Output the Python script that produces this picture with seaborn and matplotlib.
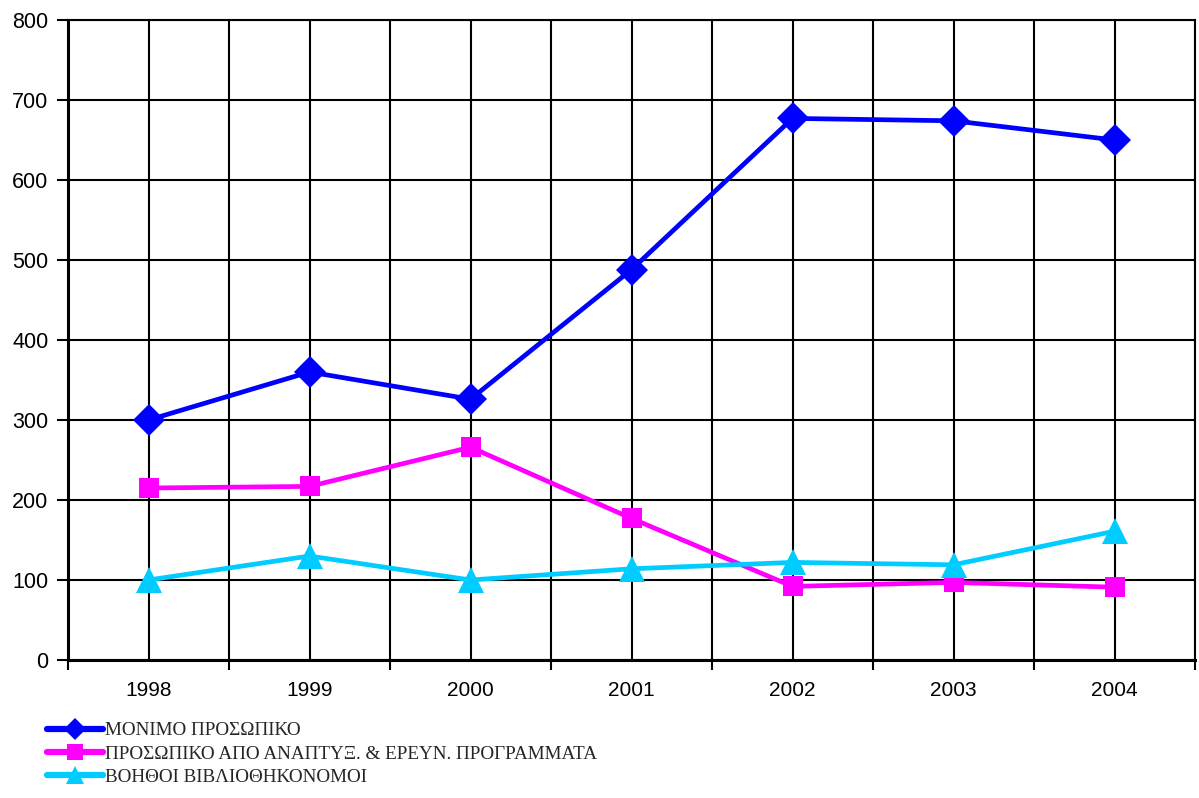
import matplotlib
matplotlib.use("Agg")
import matplotlib.pyplot as plt
import seaborn as sns
import numpy as np
import pandas as pd

years = [1998, 1999, 2000, 2001, 2002, 2003, 2004]

permanent_staff = [300, 360, 326, 488, 677, 674, 650]
project_staff = [215, 217, 266, 177, 92, 97, 91]
assistant_librarians = [100, 130, 100, 114, 122, 119, 161]

series_names = [
    "ΜΟΝΙΜΟ ΠΡΟΣΩΠΙΚΟ",
    "ΠΡΟΣΩΠΙΚΟ ΑΠΟ ΑΝΑΠΤΥΞ. & ΕΡΕΥΝ. ΠΡΟΓΡΑΜΜΑΤΑ",
    "ΒΟΗΘΟΙ ΒΙΒΛΙΟΘΗΚΟΝΟΜΟΙ",
]
colors = ["#0000FF", "#FF00FF", "#00CCFF"]
markers = ["D", "s", "^"]
marker_sizes = [16, 15, 18.5]
legend_marker_sizes = [11.5, 11, 12.5]

yticks = list(range(0, 900, 100))


def build_frame():
    rows = []
    for name, values in zip(series_names, [permanent_staff, project_staff, assistant_librarians]):
        for y, v in zip(years, values):
            rows.append({"Year": y, "Value": v, "Series": name})
    return pd.DataFrame(rows)


df = build_frame()

sns.set_style("white")
plt.rcParams["font.family"] = ["Liberation Sans", "DejaVu Sans"]

fig = plt.figure(figsize=(11.99, 7.98), dpi=100)
ax = fig.add_axes([68 / 1199, 1 - 660 / 798, (1195 - 68) / 1199, (660 - 20) / 798])

sns.lineplot(
    data=df, x="Year", y="Value", hue="Series", style="Series",
    hue_order=series_names, style_order=series_names,
    palette=colors, markers=markers, dashes=False,
    linewidth=3.4, ax=ax, zorder=3,
)

# marker sizes differ per series in the original, so fix them on the drawn lines
for line, col, ms in zip(ax.lines[:3], colors, marker_sizes):
    line.set_markersize(ms)
    line.set_markeredgewidth(0)
    line.set_markerfacecolor(col)

ax.set_xlim(years[0] - 0.5, years[-1] + 0.5)
ax.set_ylim(0, 800)
ax.set_yticks(yticks)
ax.set_xticks(years)
ax.set_xticks([y - 0.5 for y in years] + [years[-1] + 0.5], minor=True)
ax.set_xlabel("")
ax.set_ylabel("")

ax.grid(True, which="major", axis="both", color="black", linewidth=1.5)
ax.grid(True, which="minor", axis="x", color="black", linewidth=1.5)
ax.set_axisbelow(True)

ax.tick_params(axis="x", which="major", length=0, pad=15, labelsize=15, colors="black")
ax.tick_params(axis="x", which="minor", length=7, width=1.5, direction="out", color="black")
ax.tick_params(axis="y", which="major", length=8, width=1.5, direction="out", pad=6,
               labelsize=15.5, colors="black")
ax.xaxis.set_ticks_position("bottom")
ax.yaxis.set_ticks_position("left")

for side, spine in ax.spines.items():
    spine.set_color("black")
    spine.set_linewidth(1.5)
ax.spines["left"].set_linewidth(2.2)
ax.spines["bottom"].set_linewidth(2.2)

handles, labels = ax.get_legend_handles_labels()
for h, col, ms in zip(handles, colors, legend_marker_sizes):
    h.set_linewidth(4.5)
    h.set_markersize(ms)
    h.set_markeredgewidth(0)
    h.set_markerfacecolor(col)
ax.legend(
    handles, labels, loc="upper left", bbox_to_anchor=(47 / 1199, 1 - 722 / 798),
    bbox_transform=fig.transFigure, frameon=False, ncol=1,
    prop={"family": ["Liberation Serif", "DejaVu Serif"], "size": 13.8},
    handlelength=2.9, handletextpad=0.15, labelspacing=0.3, borderpad=0, borderaxespad=0,
)

fig.savefig("out.png", dpi=100)
